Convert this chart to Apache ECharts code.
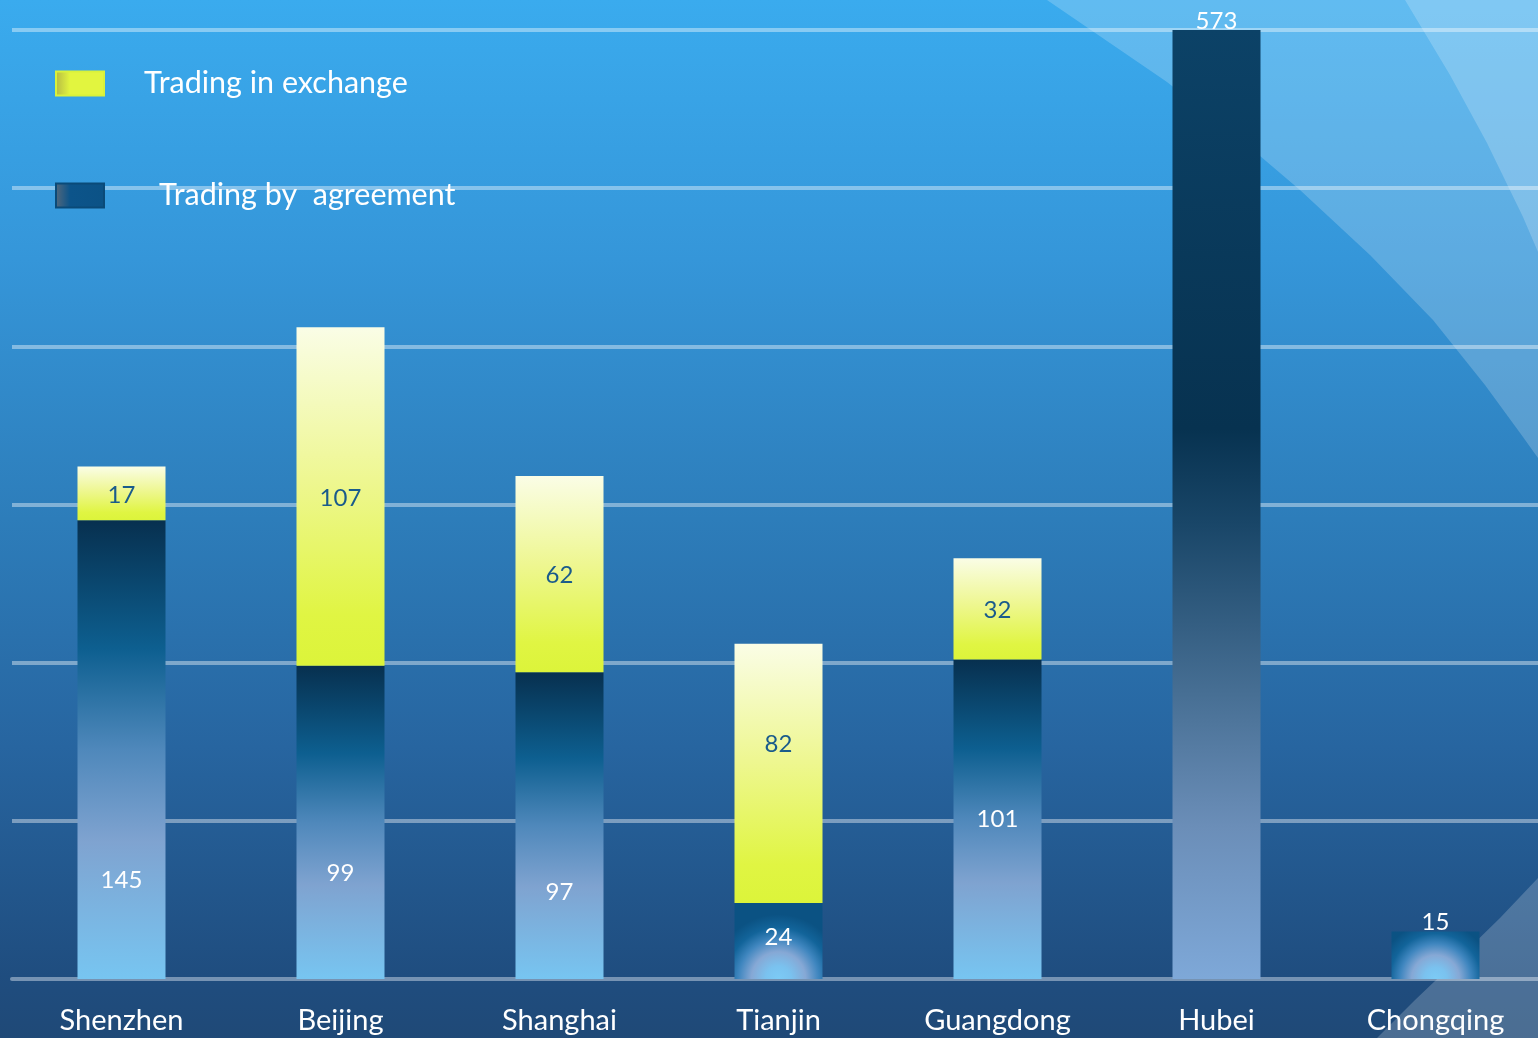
<!DOCTYPE html>
<html>
<head>
<meta charset="utf-8">
<script src="https://cdn.jsdelivr.net/npm/echarts@6/dist/echarts.min.js"></script>
<style>
html,body{margin:0;padding:0;width:100%;height:100%;overflow:hidden;}
#chart{width:1538px;height:1038px;}
</style>
</head>
<body>
<div id="chart"></div>
<script>
var categories = ['Shenzhen', 'Beijing', 'Shanghai', 'Tianjin', 'Guangdong', 'Hubei', 'Chongqing'];
var exchangeName = 'Trading in exchange';
var agreementName = 'Trading by  agreement';
var agreementValues = [145, 99, 97, 24, 101, 573, 15];
var exchangeValues = [17, 107, 62, 82, 32, null, null];
var axisMin = 0, axisMax = 300, axisStep = 50;

var FONT = 'Lato';

function lin(stops) {
  return new echarts.graphic.LinearGradient(0, 0, 0, 1, stops.map(function (s) { return { offset: s[0], color: s[1] }; }));
}
function rad(r) {
  return new echarts.graphic.RadialGradient(0.5, 1, r, [
    { offset: 0, color: '#7ccbf6' },
    { offset: 0.2, color: '#7ac2ef' },
    { offset: 0.42, color: '#86a8d5' },
    { offset: 0.62, color: '#3f86bf' },
    { offset: 0.8, color: '#12649a' },
    { offset: 1, color: '#0b5283' }
  ]);
}

var agreementTall = lin([[0, '#07304f'], [0.28, '#0d5f90'], [0.5, '#4f88bb'], [0.7, '#7fa3d0'], [1, '#77c5f1']]);
var hubeiGrad = lin([[0, '#0c4267'], [0.42, '#073250'], [0.52, '#194668'], [0.7, '#476f94'], [0.84, '#6b8eb8'], [1, '#7ea8d8']]);
var exchangeGrad = lin([[0, '#fafde6'], [0.45, '#eef791'], [0.85, '#e0f543'], [1, '#dcf43a']]);

var agreementStyles = [
  { grad: agreementTall, offset: [0, 131] },
  { grad: agreementTall, offset: [0, 51] },
  { grad: agreementTall, offset: [0, 67] },
  { grad: rad(0.85), offset: [0, -4] },
  { grad: agreementTall, offset: [0, 0] },
  { grad: hubeiGrad, top: true },
  { grad: rad(1.2), top: true }
];

var agreementData = agreementValues.map(function (v, i) {
  var s = agreementStyles[i];
  var item = { value: v, itemStyle: { color: s.grad } };
  if (s.top) {
    item.label = { position: 'top', distance: -3 };
  } else {
    item.label = { position: 'inside', offset: s.offset };
  }
  return item;
});

var exchangeOffsets = [[0, 2], [0, 2], [0, 1], [0, -29], [0, 1], [0, 0], [0, 0]];
var exchangeData = exchangeValues.map(function (v, i) {
  return { value: v, label: { offset: exchangeOffsets[i] } };
});

var chart = echarts.init(document.getElementById('chart'));
chart.setOption({
  animation: false,
  backgroundColor: new echarts.graphic.LinearGradient(0, 0, 0, 1, [
    { offset: 0, color: '#3aabee' },
    { offset: 0.25, color: '#3596d9' },
    { offset: 0.5, color: '#2d7dba' },
    { offset: 0.72, color: '#2765a0' },
    { offset: 0.94, color: '#1f4d7f' },
    { offset: 1, color: '#1f4977' }
  ]),
  graphic: [
    {
      type: 'polygon', z: 1, silent: true,
      shape: { points: [[1047, 0], [1167, 82], [1253, 150], [1300, 190], [1370, 255], [1433, 320], [1485, 385], [1523, 437], [1538, 458], [1538, 0]] },
      style: { fill: 'rgba(255,255,255,0.2)' }
    },
    {
      type: 'polygon', z: 1, silent: true,
      shape: { points: [[1405, 0], [1450, 75], [1487, 143], [1523, 217], [1538, 252], [1538, 0]] },
      style: { fill: 'rgba(255,255,255,0.2)' }
    },
    {
      type: 'polygon', z: 1, silent: true,
      shape: { points: [[1538, 878], [1500, 918], [1455, 962], [1415, 1000], [1377, 1038], [1538, 1038]] },
      style: { fill: 'rgba(255,255,255,0.2)' }
    }
  ],
  legend: {
    orient: 'vertical',
    left: 55,
    top: 68,
    padding: 0,
    itemWidth: 48,
    itemHeight: 24,
    itemGap: 81,
    selectedMode: false,
    textStyle: { color: '#ffffff', fontSize: 30.5, fontFamily: FONT },
    data: [
      {
        name: exchangeName,
        icon: 'rect',
        itemStyle: {
          color: new echarts.graphic.LinearGradient(0, 0, 1, 0, [
            { offset: 0, color: '#b4b844' }, { offset: 0.3, color: '#e2f53f' }, { offset: 1, color: '#e2f53f' }
          ]),
          borderColor: '#d9f23a', borderWidth: 2
        },
        textStyle: { padding: [4, 0, 0, 35] }
      },
      {
        name: agreementName,
        icon: 'rect',
        itemStyle: {
          color: new echarts.graphic.LinearGradient(0, 0, 1, 0, [
            { offset: 0, color: '#56687a' }, { offset: 0.3, color: '#0c548a' }, { offset: 1, color: '#0b5286' }
          ]),
          borderColor: '#0a4a78', borderWidth: 2
        },
        textStyle: { padding: [26, 0, 0, 50] }
      }
    ]
  },
  grid: { left: 12, top: 30, width: 1533, bottom: 59, outerBoundsMode: 'none', containLabel: false },
  xAxis: {
    type: 'category',
    data: categories,
    axisTick: { show: false },
    axisLine: { show: true, lineStyle: { color: '#7693b3', width: 4 } },
    axisLabel: { color: '#ffffff', fontSize: 29, fontFamily: FONT, margin: 27 }
  },
  yAxis: {
    type: 'value',
    min: axisMin,
    max: axisMax,
    interval: axisStep,
    axisLabel: { show: false },
    axisLine: { show: false },
    axisTick: { show: false },
    splitLine: { show: true, lineStyle: { color: 'rgba(255,255,255,0.4)', width: 4 } }
  },
  series: [
    {
      name: agreementName,
      type: 'bar',
      stack: 'total',
      barWidth: 88,
      clip: true,
      itemStyle: { color: '#0b5286' },
      label: { show: true, color: '#ffffff', fontSize: 24, fontFamily: FONT },
      data: agreementData
    },
    {
      name: exchangeName,
      type: 'bar',
      stack: 'total',
      barWidth: 88,
      clip: true,
      itemStyle: { color: exchangeGrad },
      label: { show: true, position: 'inside', color: '#1a5b8b', fontSize: 24, fontFamily: FONT },
      data: exchangeData
    }
  ]
});
</script>
</body>
</html>
